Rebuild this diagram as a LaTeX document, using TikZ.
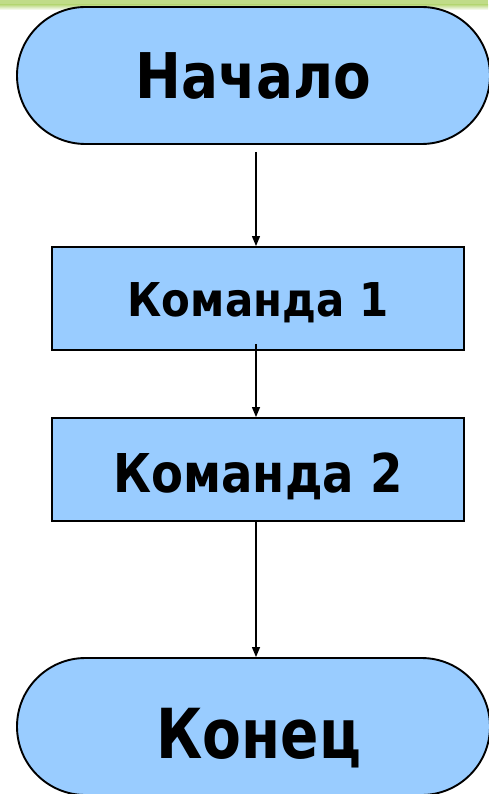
\documentclass[tikz,border=0pt]{standalone}
\usepackage{fontspec}
\setmainfont{DejaVu Sans}
\newfontfamily\fsA[FakeStretch=0.87]{DejaVu Sans}
\newfontfamily\fsB[FakeStretch=0.90]{DejaVu Sans}
\newfontfamily\fsC[FakeStretch=0.82]{DejaVu Sans}
\usetikzlibrary{arrows.meta}
\definecolor{boxblue}{RGB}{153,204,255}
\definecolor{bandgreen}{RGB}{192,220,136}
\tikzset{
  flow/.style={draw=black, line width=1.9pt, fill=boxblue, inner sep=0pt, text depth=0pt},
  term/.style={flow, rounded corners=68.5pt, minimum width=473pt, minimum height=137pt},
  cmd/.style={flow, minimum width=412pt, minimum height=103pt},
  arr/.style={line width=1.3pt, -{Triangle[length=10pt,width=8pt]}}
}
\begin{document}
\begin{tikzpicture}[x=1pt,y=-1pt]
\useasboundingbox (0,0) rectangle (488,794);
\fill[bandgreen] (0,0) rectangle (488,5);
\shade[top color=bandgreen, bottom color=white] (0,5) rectangle (488,10);
\node[term, font=\fsA\fontsize{63}{63}\selectfont\bfseries, text height=47pt] (t1) at (253.5,75.5) {Начало};
\node[cmd, font=\fsB\fontsize{46.6}{47}\selectfont\bfseries, text height=35pt] (b1) at (258,298.5) {Команда 1};
\node[cmd, font=\fsA\fontsize{53.5}{54}\selectfont\bfseries, text height=45pt] (b2) at (258,469.5) {Команда 2};
\node[term, font=\fsC\fontsize{69}{69}\selectfont\bfseries, text height=63pt] (t2) at (253.5,726.5) {\kern11pt Конец};
\coordinate (ax) at (256,0);
\draw[arr, shorten <=7pt] (t1.south -| ax) -- (b1.north -| ax);
\draw[arr, shorten <=-7pt] (b1.south -| ax) -- (b2.north -| ax);
\draw[arr] (b2.south -| ax) -- (t2.north -| ax);
\end{tikzpicture}
\end{document}
